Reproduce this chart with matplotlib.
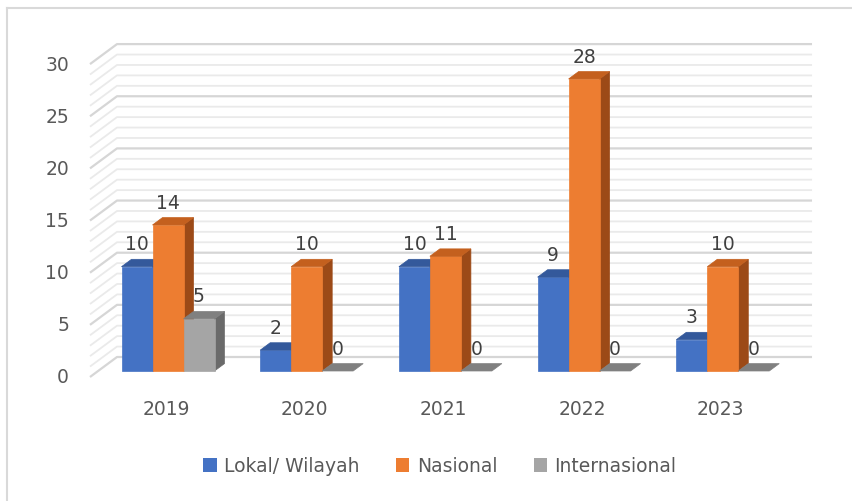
import matplotlib
matplotlib.use('agg')
import matplotlib.pyplot as plt
from matplotlib.patches import Polygon, Patch
from matplotlib.lines import Line2D

years = ['2019', '2020', '2021', '2022', '2023']
series = ['Lokal/ Wilayah', 'Nasional', 'Internasional']
lokal = [10, 2, 10, 9, 3]
nasional = [14, 10, 11, 28, 10]
internasional = [5, 0, 0, 0, 0]
values = [lokal, nasional, internasional]

front_col = ['#4472C4', '#ED7D31', '#A5A5A5']
top_col = ['#34599B', '#C4601E', '#808080']
side_col = ['#2B4B84', '#9C4A17', '#6A6A6A']
txt = '#595959'
fs = 13.5

# depth projection (category units / value units per full depth)
DX = 27 / 138.7
DY = 20 / 10.43
D_BAR0, D_BAR1 = 0.3, 0.67


def proj(x, v, d):
    return x + (d - D_BAR0) * DX, v + (d - D_BAR0) * DY


fig = plt.figure(figsize=(8.53, 5.02), dpi=100)
ax = fig.add_axes([0, 0, 1, 1])
ax.set_xlim(-168 / 138.7, (853 - 168) / 138.7)
ax.set_ylim((372 - 502) / 10.43, 372 / 10.43)
ax.axis('off')

# walls / gridlines
xl, xr = -0.504, 4.507
for v in range(0, 31):
    major = v % 5 == 0
    c = '#d6d6d6' if major else '#eaeaea'
    lw = 1.6 if major else 1.3
    p0 = proj(xl, v, 0)
    p1 = proj(xl, v, 1)
    p2 = proj(xr, v, 1)
    ax.plot([p0[0], p1[0], p2[0]], [p0[1], p1[1], p2[1]], color=c, lw=lw,
            solid_capstyle='butt', zorder=1)
    if major:
        lx, ly = proj(xl, v, 0)
        ax.text(lx - 21 / 138.7, ly, str(v), ha='right', va='center',
                fontsize=fs, color=txt)

# bars
w = 31 / 138.7
z = 3
for i in range(len(years)):
    for s in range(3):
        v = values[s][i]
        x0 = i + (s - 1.5) * w
        x1 = x0 + w
        fr = [proj(x0, 0, D_BAR0), proj(x1, 0, D_BAR0),
              proj(x1, v, D_BAR0), proj(x0, v, D_BAR0)]
        top = [proj(x0, v, D_BAR0), proj(x1, v, D_BAR0),
               proj(x1, v, D_BAR1), proj(x0, v, D_BAR1)]
        side = [proj(x1, 0, D_BAR0), proj(x1, 0, D_BAR1),
                proj(x1, v, D_BAR1), proj(x1, v, D_BAR0)]
        if v > 0:
            ax.add_patch(Polygon(side, closed=True, fc=side_col[s],
                                 ec=side_col[s], lw=0.5, zorder=z))
            ax.add_patch(Polygon(fr, closed=True, fc=front_col[s],
                                 ec=front_col[s], lw=0.5, zorder=z))
        ax.add_patch(Polygon(top, closed=True, fc=top_col[s],
                             ec=top_col[s], lw=0.5, zorder=z))
        z += 1
        tx, ty = proj((x0 + x1) / 2, v + 2.2, D_BAR0)
        ax.text(tx, ty, str(v), ha='center', va='center', fontsize=fs,
                color='#404040', zorder=50)

# category labels
for i, yr in enumerate(years):
    ax.text(i - 0.015, (372 - 410) / 10.43, yr, ha='center', va='center',
            fontsize=fs, color=txt)

handles = [Patch(facecolor=front_col[s], edgecolor='none') for s in range(3)]
leg = fig.legend(handles, series, loc='center', ncol=3, frameon=False,
                 bbox_to_anchor=(440 / 853, 1 - 467 / 502), fontsize=fs,
                 handlelength=0.7, handleheight=0.7, handletextpad=0.4,
                 columnspacing=1.95, borderpad=0)
for t in leg.get_texts():
    t.set_color(txt)

# chart border (cropped on right/bottom)
fig.add_artist(Line2D([7 / 853, 7 / 853], [0, 1 - 9 / 502],
                      transform=fig.transFigure, color='#d9d9d9', lw=1.5))
fig.add_artist(Line2D([7 / 853, 1], [1 - 9 / 502, 1 - 9 / 502],
                      transform=fig.transFigure, color='#d9d9d9', lw=1.5))

fig.savefig('out.png', dpi=100)
